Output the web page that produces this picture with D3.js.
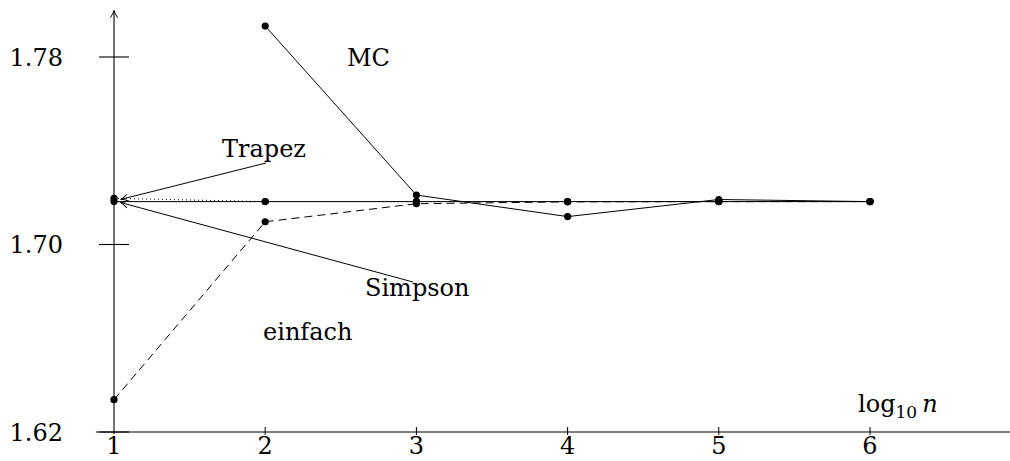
<!DOCTYPE html>
<html>
<head>
<meta charset="utf-8">
<script src="https://cdn.jsdelivr.net/npm/d3@7"></script>
<style>
	body { margin: 0; background: #fff; }
</style>
</head>
<body>
<div id="chart"></div>
<script>
// log10 n
const logN = [1, 2, 3, 4, 5, 6]
const xTicks = [1, 2, 3, 4, 5, 6]
const yTicks = [1.62, 1.7, 1.78]
const yTickLabels = ['1.62', '1.70', '1.78']

// integral estimates per method
const einfach = [1.6338, 1.7097, 1.7174, 1.7182, 1.7183, 1.7183]
const trapez = [1.7197, 1.7183, 1.7183, 1.7183, 1.7183, 1.7183]
const simpson = [1.7183, 1.7183, 1.7183, 1.7183, 1.7183, 1.7183]
const mcN = [2, 3, 4, 5, 6]
const mc = [1.7932, 1.7211, 1.7119, 1.7192, 1.7183]

const width = 1010
const height = 461
const FONT = '"DejaVu Serif", "Liberation Serif", serif'

const svg = d3.select('#chart').append('svg')
	.attr('width', width).attr('height', height)
	.attr('font-family', FONT)

const x = d3.scaleLinear().domain([1, 6]).range([114, 870])
const y = d3.scaleLinear().domain([1.62, 1.78]).range([432, 57])

// LaTeX-like open arrow head
const defs = svg.append('defs')
defs.append('marker')
	.attr('id', 'arr')
	.attr('viewBox', '-8 -5 10 10')
	.attr('refX', 0)
	.attr('refY', 0)
	.attr('markerWidth', 10)
	.attr('markerHeight', 10)
	.attr('markerUnits', 'userSpaceOnUse')
	.attr('orient', 'auto')
	.append('path')
	.attr('d', 'M-7,-3.5 Q-3,-1 0,0 Q-3,1 -7,3.5')
	.attr('fill', 'none')
	.attr('stroke', '#000')
	.attr('stroke-width', 1)

// axes
svg.append('line')
	.attr('x1', x(0.88)).attr('x2', x(6.95))
	.attr('y1', y(1.62)).attr('y2', y(1.62))
	.attr('stroke', '#000').attr('stroke-width', 1.1)
svg.append('line')
	.attr('x1', x(1)).attr('x2', x(1))
	.attr('y1', y(1.62) + 2).attr('y2', y(1.7998))
	.attr('stroke', '#000').attr('stroke-width', 1.1)
	.attr('marker-end', 'url(#arr)')

// y ticks
const yt = svg.append('g')
yt.selectAll('line').data(yTicks).enter().append('line')
	.attr('x1', x(1) - 15).attr('x2', x(1) + 15)
	.attr('y1', d => y(d)).attr('y2', d => y(d))
	.attr('stroke', '#000').attr('stroke-width', 1.1)
yt.selectAll('text').data(yTicks).enter().append('text')
	.attr('x', 63)
	.attr('y', d => y(d))
	.attr('dy', '0.36em')
	.attr('text-anchor', 'end')
	.attr('font-family', FONT)
	.attr('font-size', 24)
	.text((d, i) => yTickLabels[i])

// x ticks
const xt = svg.append('g')
xt.selectAll('line').data(xTicks.slice(1)).enter().append('line')
	.attr('x1', d => x(d)).attr('x2', d => x(d))
	.attr('y1', y(1.62) - 5).attr('y2', y(1.62) + 3)
	.attr('stroke', '#000').attr('stroke-width', 1)
xt.selectAll('text').data(xTicks).enter().append('text')
	.attr('x', d => x(d))
	.attr('y', 454)
	.attr('text-anchor', 'middle')
	.attr('font-family', FONT)
	.attr('font-size', 24)
	.text(d => d)

// series
const series = [
	{ name: 'einfach', xs: logN, ys: einfach, dash: '8,5' },
	{ name: 'Trapez', xs: logN, ys: trapez, dash: '1,3' },
	{ name: 'Simpson', xs: logN, ys: simpson, dash: null },
	{ name: 'MC', xs: mcN, ys: mc, dash: null },
]

const line = d3.line().x(d => x(d[0])).y(d => y(d[1]))

series.forEach(s => {
	const pts = s.xs.map((v, i) => [v, s.ys[i]])
	svg.append('path')
		.attr('d', line(pts))
		.attr('fill', 'none')
		.attr('stroke', '#000')
		.attr('stroke-width', 1)
		.attr('stroke-dasharray', s.dash)
})
series.forEach(s => {
	const pts = s.xs.map((v, i) => [v, s.ys[i]])
	svg.append('g').selectAll('circle').data(pts).enter().append('circle')
		.attr('cx', d => x(d[0]))
		.attr('cy', d => y(d[1]))
		.attr('r', 3.6)
		.attr('fill', '#000')
})

// labels
const lab = (tx, ty, t) => svg.append('text')
	.attr('x', tx).attr('y', ty)
	.attr('font-family', FONT)
	.attr('font-size', 24)
	.text(t)
lab(347, 66, 'MC')
lab(222, 157, 'Trapez')
lab(365, 296, 'Simpson')
lab(263, 340, 'einfach')

// arrows from labels to the n=10 points
svg.append('line')
	.attr('x1', 266).attr('y1', 163)
	.attr('x2', x(1) + 7).attr('y2', y(trapez[0]) + 1)
	.attr('stroke', '#000').attr('stroke-width', 1)
	.attr('marker-end', 'url(#arr)')
svg.append('line')
	.attr('x1', 413).attr('y1', 282)
	.attr('x2', x(1) + 7).attr('y2', y(simpson[0]) + 1)
	.attr('stroke', '#000').attr('stroke-width', 1)
	.attr('marker-end', 'url(#arr)')

// axis label log10 n
const xl = svg.append('text').attr('x', 858).attr('y', 412)
	.attr('font-family', FONT).attr('font-size', 24)
xl.append('tspan').text('log')
xl.append('tspan').attr('dy', 6).attr('font-size', 17).text('10')
xl.append('tspan').attr('dy', -6).attr('dx', 5).attr('font-style', 'italic').text('n')
</script>
</body>
</html>
